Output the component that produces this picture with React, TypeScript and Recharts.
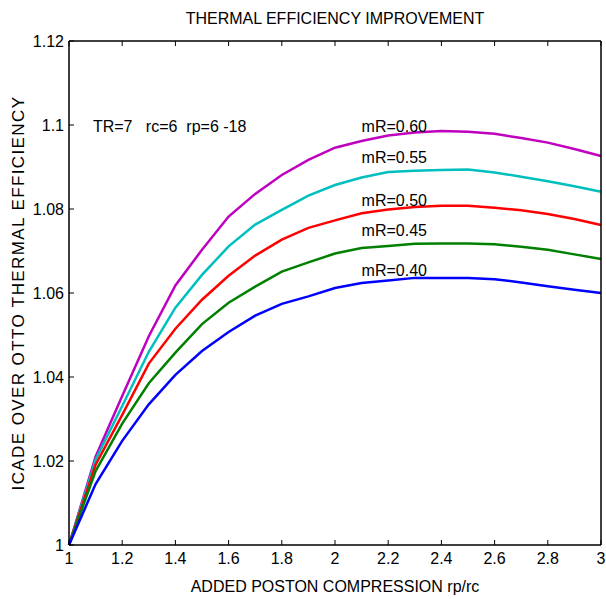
import { LineChart, Line, XAxis, YAxis, ReferenceDot } from 'recharts';

const rpRc = [1, 1.1, 1.2, 1.3, 1.4, 1.5, 1.6, 1.7, 1.8, 1.9, 2, 2.1, 2.2, 2.3, 2.4, 2.5, 2.6, 2.7, 2.8, 2.9, 3];

const mR060 = [1, 1.021, 1.0355, 1.0497, 1.0618, 1.0703, 1.0782, 1.0836, 1.0881, 1.0917, 1.0946, 1.0962, 1.0975, 1.0982, 1.0986, 1.0984, 1.0979, 1.0969, 1.0958, 1.0943, 1.0926];
const mR055 = [1, 1.0203, 1.0331, 1.046, 1.0565, 1.0643, 1.0711, 1.0763, 1.0798, 1.0832, 1.0857, 1.0875, 1.0888, 1.0891, 1.0893, 1.0894, 1.0887, 1.0877, 1.0866, 1.0854, 1.0841];
const mR050 = [1, 1.0191, 1.031, 1.0432, 1.0515, 1.0584, 1.0641, 1.0689, 1.0727, 1.0755, 1.0773, 1.079, 1.0799, 1.0805, 1.0808, 1.0808, 1.0803, 1.0797, 1.0788, 1.0776, 1.0762];
const mR045 = [1, 1.0176, 1.0289, 1.0385, 1.0458, 1.0526, 1.0577, 1.0615, 1.0651, 1.0673, 1.0694, 1.0707, 1.0712, 1.0717, 1.0718, 1.0718, 1.0716, 1.071, 1.0703, 1.0692, 1.0681];
const mR040 = [1, 1.0145, 1.0248, 1.0335, 1.0405, 1.0462, 1.0507, 1.0546, 1.0574, 1.0592, 1.0612, 1.0624, 1.063, 1.0636, 1.0636, 1.0636, 1.0633, 1.0625, 1.0616, 1.0608, 1.06];

const xTicks = [1, 1.2, 1.4, 1.6, 1.8, 2, 2.2, 2.4, 2.6, 2.8, 3];
const yTicks = [1, 1.02, 1.04, 1.06, 1.08, 1.1, 1.12];

const series = [
  { key: 'm060', color: '#bf00bf' },
  { key: 'm055', color: '#00bfbf' },
  { key: 'm050', color: '#ff0000' },
  { key: 'm045', color: '#008000' },
  { key: 'm040', color: '#0000ff' },
];

// text notes placed in data units
const notes = [
  { text: 'TR=7\u00a0\u00a0\u00a0rc=6\u00a0\u00a0rp=6 -18', x: 1.09, y: 1.0996 },
  { text: 'mR=0.60', x: 2.1, y: 1.0996 },
  { text: 'mR=0.55', x: 2.1, y: 1.0922 },
  { text: 'mR=0.50', x: 2.1, y: 1.082 },
  { text: 'mR=0.45', x: 2.1, y: 1.075 },
  { text: 'mR=0.40', x: 2.1, y: 1.0653 },
];

const data = rpRc.map((x, i) => ({
  x,
  m060: mR060[i],
  m055: mR055[i],
  m050: mR050[i],
  m045: mR045[i],
  m040: mR040[i],
}));

const font = '"Liberation Sans", Arial, sans-serif';
const tickStyle = { fill: '#000', fontSize: 16, fontFamily: font };
const frame = { stroke: '#000', strokeWidth: 1.5 };

export default function App() {
  return (
    <div style={{ position: 'absolute', left: 0, top: 0, width: 606, height: 599, background: '#fff' }}>
      <LineChart
        width={606}
        height={599}
        data={data}
        margin={{ top: 40, right: 4, bottom: 0, left: 0 }}
        style={{ fontFamily: font }}
      >
        <XAxis
          dataKey="x"
          type="number"
          domain={[1, 3]}
          ticks={xTicks}
          height={54}
          tickSize={-5}
          tickMargin={13}
          tick={tickStyle}
          stroke="#000"
          axisLine={frame}
          label={{ value: 'ADDED POSTON COMPRESSION rp/rc', position: 'insideBottom', offset: 7, fill: '#000', fontSize: 16 }}
        />
        <XAxis
          xAxisId="top"
          orientation="top"
          type="number"
          dataKey="x"
          domain={[1, 3]}
          ticks={xTicks}
          height={1}
          tickSize={-5}
          tick={{ fill: 'none', fontSize: 1 }}
          stroke="#000"
          axisLine={frame}
          label={{ value: 'THERMAL EFFICIENCY IMPROVEMENT', position: 'top', offset: 16, fill: '#000', fontSize: 16 }}
        />
        <YAxis
          type="number"
          domain={[1, 1.12]}
          ticks={yTicks}
          width={69}
          tickSize={-5}
          tickMargin={10}
          tick={tickStyle}
          stroke="#000"
          axisLine={frame}
          label={{
            value: 'ICADE OVER OTTO THERMAL EFFICIENCY',
            angle: -90,
            position: 'center',
            dx: -17,
            fill: '#000',
            fontSize: 17,
            letterSpacing: 1.4,
          }}
        />
        <YAxis
          yAxisId="right"
          orientation="right"
          type="number"
          domain={[1, 1.12]}
          ticks={yTicks}
          width={1}
          tickSize={-5}
          tick={{ fill: 'none', fontSize: 1 }}
          stroke="#000"
          axisLine={frame}
        />
        {series.map((s) => (
          <Line
            key={s.key}
            dataKey={s.key}
            stroke={s.color}
            strokeWidth={2.5}
            dot={false}
            type="linear"
            isAnimationActive={false}
          />
        ))}
        {notes.map((n) => (
          <ReferenceDot
            key={n.text}
            x={n.x}
            y={n.y}
            r={0}
            fill="none"
            stroke="none"
            label={{ value: n.text, position: 'right', offset: 0, fill: '#000', fontSize: 16 }}
          />
        ))}
      </LineChart>
    </div>
  );
}
